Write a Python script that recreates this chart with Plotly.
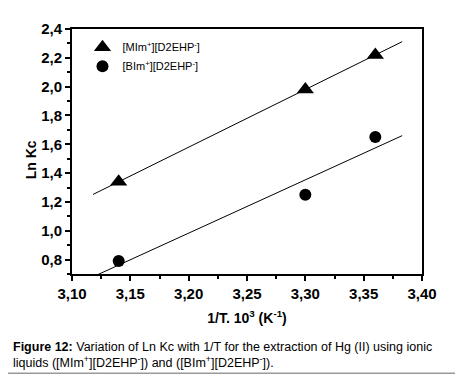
import numpy as np
import plotly.graph_objects as go

inv_T = [3.14, 3.30, 3.36]
mim_lnkc = [1.34, 1.98, 2.22]
bim_lnkc = [0.79, 1.25, 1.65]
series_names = ["[MIm<sup>+</sup>][D2EHP<sup>-</sup>]", "[BIm<sup>+</sup>][D2EHP<sup>-</sup>]"]
fit_x_range = [3.118, 3.383]
x_ticks = [3.10, 3.15, 3.20, 3.25, 3.30, 3.35, 3.40]
y_ticks = [0.8, 1.0, 1.2, 1.4, 1.6, 1.8, 2.0, 2.2, 2.4]

fig = go.Figure()
fx = np.array(fit_x_range)
for yv in (mim_lnkc, bim_lnkc):
    k, b = np.polyfit(inv_T, yv, 1)
    fig.add_trace(go.Scatter(x=fx, y=k * fx + b, mode="lines",
                             line=dict(color="black", width=1), showlegend=False, hoverinfo="skip"))

fig.add_trace(go.Scatter(x=inv_T, y=mim_lnkc, mode="markers", name=series_names[0],
                         marker=dict(symbol="triangle-up", size=15, color="black")))
fig.add_trace(go.Scatter(x=inv_T, y=bim_lnkc, mode="markers", name=series_names[1],
                         marker=dict(symbol="circle", size=12, color="black")))

def fmt(v, nd):
    return "<b>" + f"{v:.{nd}f}".replace(".", ",") + "</b>"

def axis_common(dminor):
    return dict(showline=True, linecolor="black", linewidth=2, mirror=True,
                ticks="outside", tickcolor="black", tickwidth=1.5, ticklen=5,
                showgrid=False, zeroline=False,
                tickfont=dict(family="Liberation Sans, Arial", size=15, color="black"),
                minor=dict(ticks="outside", ticklen=3, tickcolor="black", tickwidth=1.5, dtick=dminor))

W, H = 455, 371
L, R, T, B = 64, 41, 14, 105
PW, PH = W - L - R, H - T - B

fig.update_layout(
    width=W, height=H,
    margin=dict(l=L, r=R, t=T, b=B),
    plot_bgcolor="white", paper_bgcolor="white",
    font=dict(family="Liberation Sans, Arial", color="black"),
    xaxis=dict(range=[3.10, 3.40], tickvals=x_ticks, ticktext=[fmt(v, 2) for v in x_ticks],
               title=dict(text="<b>1/T. 10<sup>3</sup> (K<sup>-1</sup>)</b>", font=dict(size=14), standoff=12),
               **axis_common(0.025)),
    yaxis=dict(range=[0.7, 2.4], tickvals=y_ticks, ticktext=[fmt(v, 1) for v in y_ticks],
               **axis_common(0.1)),
    legend=dict(x=0.03, y=0.985, xanchor="left", yanchor="top", bgcolor="rgba(0,0,0,0)",
                font=dict(size=11, color="black"), itemsizing="trace", tracegroupgap=0),
    showlegend=True,
)

fig.add_annotation(xref="paper", yref="paper", x=(23 - L) / PW, y=1 - (149 - T) / PH,
                   xanchor="center", yanchor="middle", textangle=-90, showarrow=False,
                   text="<b>Ln Kc</b>", font=dict(size=14, color="black", family="Liberation Sans, Arial"))

fig.add_annotation(xref="paper", yref="paper", x=-(L - 3) / PW, y=-(332 - T - PH) / PH, xanchor="left", yanchor="top",
                   align="left", showarrow=False,
                   text="<b>Figure 12:</b> Variation of Ln Kc with 1/T for the extraction of Hg (II) using ionic<br>"
                        "liquids ([MIm<sup>+</sup>][D2EHP<sup>-</sup>]) and ([BIm<sup>+</sup>][D2EHP<sup>-</sup>]).",
                   font=dict(size=12.5, color="black", family="Liberation Sans, Arial"))
fig.add_shape(type="line", xref="paper", yref="paper", x0=-L / PW, x1=1 + R / PW,
              y0=-(368 - T - PH) / PH, y1=-(368 - T - PH) / PH, line=dict(color="#999999", width=1.5))

fig.write_html("out.html")
